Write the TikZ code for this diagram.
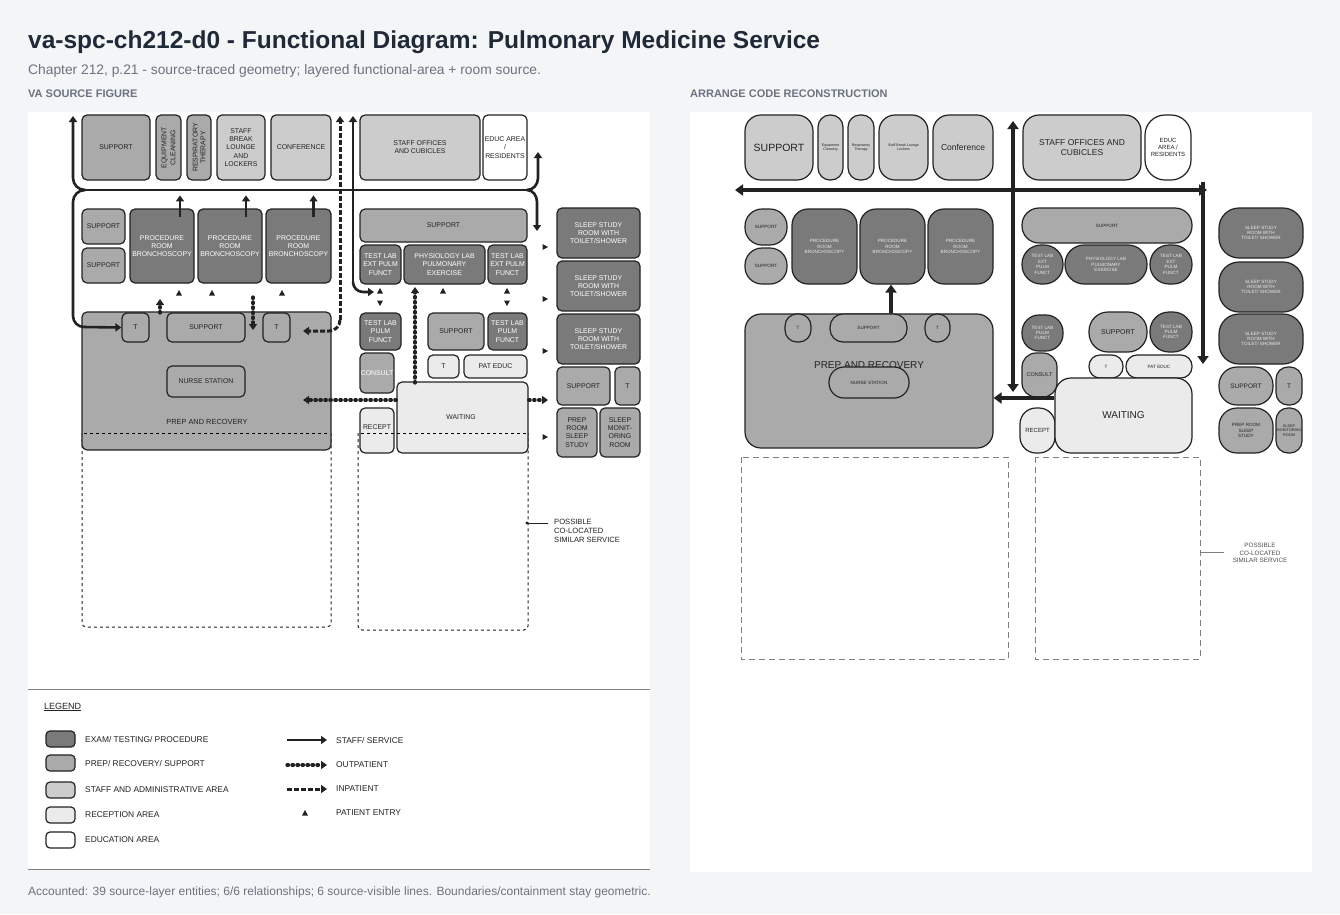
\documentclass[tikz,border=0pt]{standalone}
\usepackage{fontspec}
\setmainfont{Liberation Sans}
\usetikzlibrary{arrows.meta}
\definecolor{pagebg}{HTML}{F4F5F7}
\definecolor{ttl}{HTML}{1F2937}
\definecolor{sub}{HTML}{6B7280}
\definecolor{cexam}{HTML}{7A7A7A}
\definecolor{cprep}{HTML}{AAAAAA}
\definecolor{cstaff}{HTML}{CCCCCC}
\definecolor{crec}{HTML}{EBEBEB}
\definecolor{ink}{HTML}{222222}
\newcommand\Rm[7]{\node[box,#6,minimum width={(#4-#2)*1pt},minimum height={(#5-#3)*1pt}] (#1) at ({(#2+#4)/2},{(#3+#5)/2}) {#7};}
\tikzset{
 box/.style={draw=ink,line width=1.2pt,inner sep=0pt,align=center,font=\fontsize{6.9}{8.2}\selectfont,text=ink},
 ex/.style={fill=cexam,text=white,rounded corners=5pt},
 pr/.style={fill=cprep,rounded corners=5pt},
 st/.style={fill=cstaff,rounded corners=5pt},
 re/.style={fill=crec,rounded corners=5pt},
 ed/.style={fill=white,rounded corners=5pt},
 sm/.style={font=\fontsize{4.6}{5.4}\selectfont},
 staffL/.style={draw=ink,line width=2.6pt,-{Triangle[length=6pt,width=8pt]}},
 inpat/.style={draw=ink,line width=3pt,dash pattern=on 5pt off 2pt,-{Triangle[length=6pt,width=8pt]}},
 outpat/.style={draw=ink,line width=3.2pt,line cap=round,dash pattern=on 1.5pt off 3.5pt,-{Triangle[length=6pt,width=8pt]}},
 staffR/.style={draw=ink,line width=3.6pt,-{Triangle[length=8pt,width=11pt]}},
 fut/.style={draw=ink,dashed,line width=1pt,rounded corners=4pt},
 futR/.style={draw=gray,dash pattern=on 6pt off 4pt,line width=1pt},
 legt/.style={anchor=west,font=\fontsize{8.4}{10}\selectfont,text=ink},
}
\begin{document}
\begin{tikzpicture}[x=1pt,y=-1pt]
\fill[pagebg] (0,0) rectangle (1340,914);
\useasboundingbox (0,0) rectangle (1340,914);
\fill[white] (28,112) rectangle (650,870);
\fill[white] (690,112) rectangle (1312,872);
\node[anchor=west,font=\bfseries\fontsize{24.5}{27}\selectfont,text=ttl,inner sep=0pt] (title) at (28,42) {va-spc-ch212-d0 - Functional Diagram: Pulmonary Medicine Service};
\node[anchor=west,font=\fontsize{13.8}{16}\selectfont,text=sub,inner sep=0pt] (subt) at (28,71) {Chapter 212, p.21 - source-traced geometry; layered functional-area + room source.};
\node[anchor=west,font=\bfseries\fontsize{11}{13}\selectfont,text=sub,inner sep=0pt] (hl) at (28,94) {VA SOURCE FIGURE};
\node[anchor=west,font=\bfseries\fontsize{11}{13}\selectfont,text=sub,inner sep=0pt] (hr) at (690,94) {ARRANGE CODE RECONSTRUCTION};
\node[anchor=west,font=\fontsize{12}{14}\selectfont,text=sub,inner sep=0pt] (foot) at (28,892) {Accounted: 39 source-layer entities; 6/6 relationships; 6 source-visible lines. Boundaries/containment stay geometric.};

% ===== LEFT: source figure =====
\draw[fut] (82,433) -- (82,627) -- (331,627) -- (331,433);
\draw[fut] (358,433) -- (358,630) -- (528,630) -- (528,433);
\Rm{lsup}{82}{115}{150}{180}{pr}{SUPPORT}
\Rm{leq}{156}{115}{181}{180}{pr}{\rotatebox{90}{\shortstack{EQUIPMENT\\CLEANING}}}
\Rm{lrt}{187}{115}{211}{180}{pr}{\rotatebox{90}{\shortstack{RESPIRATORY\\THERAPY}}}
\Rm{lsb}{217}{115}{265}{180}{st}{STAFF\\BREAK\\LOUNGE\\AND\\LOCKERS}
\Rm{lconf}{271}{115}{331}{180}{st}{CONFERENCE}
\Rm{lso}{360}{115}{480}{180}{st}{STAFF OFFICES\\AND CUBICLES}
\Rm{led}{483}{115}{527}{180}{ed}{EDUC AREA\\/\\RESIDENTS}
\Rm{ls1}{82}{209}{125}{244}{pr}{SUPPORT}
\Rm{ls2}{82}{248}{125}{283}{pr}{SUPPORT}
\Rm{lp1}{130}{209}{194}{283}{ex}{PROCEDURE\\ROOM\\BRONCHOSCOPY}
\Rm{lp2}{198}{209}{262}{283}{ex}{PROCEDURE\\ROOM\\BRONCHOSCOPY}
\Rm{lp3}{266}{209}{331}{283}{ex}{PROCEDURE\\ROOM\\BRONCHOSCOPY}
\Rm{lprep}{82}{312}{331}{450}{pr}{}
\node[font=\fontsize{7.4}{8.6}\selectfont,text=ink] (lpreplab) at (207,422) {PREP AND RECOVERY};
\draw[dashed,line width=1pt] (84,433) -- (329,433);
\Rm{lt1}{122}{313}{149}{342}{pr}{T}
\Rm{lsup2}{167}{313}{245}{342}{pr}{SUPPORT}
\Rm{lt2}{263}{313}{290}{342}{pr}{T}
\Rm{lns}{167}{366}{245}{397}{pr}{NURSE STATION}
\Rm{lsupw}{360}{209}{527}{242}{pr}{SUPPORT}
\Rm{ltl1}{360}{245}{401}{284}{ex}{TEST LAB\\EXT PULM\\FUNCT}
\Rm{lphy}{404}{245}{485}{284}{ex}{PHYSIOLOGY LAB\\PULMONARY\\EXERCISE}
\Rm{ltl2}{488}{245}{527}{284}{ex}{TEST LAB\\EXT PULM\\FUNCT}
\Rm{ltl3}{360}{313}{401}{350}{ex}{TEST LAB\\PULM\\FUNCT}
\Rm{lsup3}{428}{313}{484}{350}{pr}{SUPPORT}
\Rm{ltl4}{488}{313}{527}{350}{ex}{TEST LAB\\PULM\\FUNCT}
\Rm{lt3}{428}{355}{459}{378}{re}{T}
\Rm{lpat}{464}{355}{527}{378}{re}{PAT EDUC}
\Rm{lcon}{360}{353}{394}{393}{pr,text=white}{CONSULT}
\Rm{lwait}{397}{382}{528}{453}{re}{}
\node[font=\fontsize{6.9}{8.2}\selectfont,text=ink] (lwaitlab) at (461,417) {WAITING};
\Rm{lrec}{360}{408}{394}{453}{re}{}
\node[font=\fontsize{6.9}{8.2}\selectfont,text=ink] (lreclab) at (377,427) {RECEPT};
\draw[dashed,line width=1pt] (361,433) -- (527,433);
\Rm{lss1}{557}{208}{640}{258}{ex}{SLEEP STUDY\\ROOM WITH\\TOILET/SHOWER}
\Rm{lss2}{557}{261}{640}{311}{ex}{SLEEP STUDY\\ROOM WITH\\TOILET/SHOWER}
\Rm{lss3}{557}{314}{640}{364}{ex}{SLEEP STUDY\\ROOM WITH\\TOILET/SHOWER}
\Rm{lsup4}{557}{367}{610}{405}{pr}{SUPPORT}
\Rm{lt4}{615}{367}{640}{405}{pr}{T}
\Rm{lprs}{557}{408}{597}{457}{pr}{PREP\\ROOM\\SLEEP\\STUDY}
\Rm{lsmr}{600}{408}{640}{457}{pr}{SLEEP\\MONIT-\\ORING\\ROOM}
% staff arrows left
\draw[staffL] (85,190) to[out=180,in=-90] (73,178) -- (73,116);
\draw[draw=ink,line width=2.6pt] (85,190) -- (527,190);
\draw[staffL] (527,190) to[out=0,in=-90] (538,178) -- (538,152);
\draw[staffL] (527,190) to[out=0,in=90] (537,202) -- (537,231);
\draw[staffL] (85,190) to[out=180,in=90] (73,202) -- (73,316) to[out=-90,in=180] (84,327) -- (lt1.west);
\draw[staffL] (lp1.north) ++(18,9) coordinate (a1) -- ++(0,-22);
\draw[staffL] (lp2.north) ++(16,9) coordinate (a2) -- ++(0,-22);
\draw[staffL] (lp3.north) ++(15,9) coordinate (a3) -- ++(0,-22);
\draw[staffL] (353,282) to[out=-90,in=180] (363,292) -- (374,292);
\draw[staffL] (353,282) -- (353,116);
\draw[inpat] (340,320) to[out=-90,in=0] (329,331) -- (303,331);
\draw[inpat] (340,320) -- (340,116);
\draw[outpat] (lwait.west |- 0,400) -- (303,400);
\draw[outpat] (415,383) -- (415,287);
\draw[outpat] (lwait.east |- 0,400) -- (548,400);
\draw[outpat] (160,313) -- (160,299);
\draw[outpat] (253,297) -- (253,330);
% entries
\foreach \p in {(179,293),(212,293),(282,293),(380,291),(443,291),(507,291)}
  \fill[ink] \p ++(0,-3) -- ++(3,5.5) -- ++(-6,0) -- cycle;
\foreach \p in {(380,303),(507,303)}
  \fill[ink] \p ++(0,3) -- ++(3,-5.5) -- ++(-6,0) -- cycle;
\foreach \y in {247,299,351,437}
  \fill[ink] (548,\y) -- ++(-5.5,-3) -- ++(0,6) -- cycle;
\fill[ink] (527,523) circle (1.6pt);
\draw[ink,line width=0.9pt] (527,523) -- (548,523);
\node[anchor=north west,align=left,font=\fontsize{7.6}{9.2}\selectfont,text=ink,inner sep=0pt] (lpos) at (554,519) {POSSIBLE\\CO-LOCATED\\SIMILAR SERVICE};

% legend
\draw[gray,line width=0.8pt] (28,689) -- (650,689);
\draw[gray,line width=0.8pt] (28,869) -- (650,869);
\node[anchor=west,font=\fontsize{9}{11}\selectfont,text=ink,inner sep=0pt] (leg) at (44,707) {\underline{LEGEND}};
\foreach \y/\c/\t in {739/cexam/{EXAM/ TESTING/ PROCEDURE},763/cprep/{PREP/ RECOVERY/ SUPPORT},790/cstaff/{STAFF AND ADMINISTRATIVE AREA},815/crec/{RECEPTION AREA},840/white/{EDUCATION AREA}}{
  \draw[ink,line width=1.2pt,fill=\c,rounded corners=4pt] (46,\y-8) rectangle (75,\y+8);
  \node[legt,inner sep=0pt] at (85,\y) {\t};}
\draw[staffL] (287,740) -- (327,740);
\node[legt,inner sep=0pt] at (336,740) {STAFF/ SERVICE};
\draw[outpat] (287,765) -- (327,765);
\node[legt,inner sep=0pt] at (336,765) {OUTPATIENT};
\draw[inpat] (287,789) -- (327,789);
\node[legt,inner sep=0pt] at (336,789) {INPATIENT};
\fill[ink] (305,810) -- ++(3,5.5) -- ++(-6,0) -- cycle;
\node[legt,inner sep=0pt] at (336,813) {PATIENT ENTRY};

% ===== RIGHT: reconstruction =====
\draw[futR] (741,457) rectangle (1008,659);
\draw[futR] (1035,457) rectangle (1200,659);
\draw[gray,line width=0.8pt] (1200,552) -- (1224,552);
\node[align=center,font=\fontsize{6.3}{7.4}\selectfont,text=ink!80] (rpos) at (1260,553) {POSSIBLE\\CO-LOCATED\\SIMILAR SERVICE};
\Rm{rsup}{745}{115}{813}{180}{st,rounded corners=16pt,font=\fontsize{10.5}{12}\selectfont}{SUPPORT}
\Rm{req}{818}{115}{843}{180}{st,rounded corners=12pt,font=\fontsize{3.6}{4.3}\selectfont}{Equipment\\Cleaning}
\Rm{rrt}{848}{115}{874}{180}{st,rounded corners=12pt,font=\fontsize{3.6}{4.3}\selectfont}{Respiratory\\Therapy}
\Rm{rsb}{879}{115}{928}{180}{st,rounded corners=16pt,font=\fontsize{3.6}{4.3}\selectfont}{Staff Break Lounge\\Lockers}
\Rm{rconf}{933}{115}{993}{180}{st,rounded corners=16pt,font=\fontsize{8.5}{10}\selectfont}{Conference}
\Rm{rso}{1023}{115}{1141}{180}{st,rounded corners=16pt,font=\fontsize{8.5}{10}\selectfont}{STAFF OFFICES AND\\CUBICLES}
\Rm{red}{1145}{115}{1191}{180}{ed,rounded corners=20pt,font=\fontsize{6}{7}\selectfont}{EDUC\\AREA /\\RESIDENTS}
\Rm{rs1}{745}{209}{787}{245}{pr,rounded corners=17pt,sm}{SUPPORT}
\Rm{rs2}{745}{248}{787}{284}{pr,rounded corners=17pt,sm}{SUPPORT}
\Rm{rp1}{792}{209}{857}{284}{ex,rounded corners=16pt,sm,text=crec}{PROCEDURE\\ROOM\\BRONCHOSCOPY}
\Rm{rp2}{860}{209}{925}{284}{ex,rounded corners=16pt,sm,text=crec}{PROCEDURE\\ROOM\\BRONCHOSCOPY}
\Rm{rp3}{928}{209}{993}{284}{ex,rounded corners=16pt,sm,text=crec}{PROCEDURE\\ROOM\\BRONCHOSCOPY}
\Rm{rprep}{745}{314}{993}{448}{pr,rounded corners=16pt}{}
\Rm{rt1}{785}{314}{811}{342}{pr,rounded corners=12pt,sm}{T}
\Rm{rsup2}{830}{314}{907}{342}{pr,rounded corners=13pt,sm}{SUPPORT}
\Rm{rt2}{925}{314}{950}{342}{pr,rounded corners=12pt,sm}{T}
\node[font=\fontsize{10}{12}\selectfont,text=ink] (rpreplab) at (869,365) {PREP AND RECOVERY};
\Rm{rns}{829}{367}{909}{398}{pr,rounded corners=15pt,sm}{NURSE STATION}
\Rm{rsupw}{1022}{208}{1192}{243}{pr,rounded corners=17pt,sm}{SUPPORT}
\Rm{rtl1}{1022}{245}{1063}{284}{ex,rounded corners=19pt,sm,text=crec}{TEST LAB\\EXT\\PULM\\FUNCT}
\Rm{rphy}{1065}{245}{1147}{284}{ex,rounded corners=19pt,sm,text=crec}{PHYSIOLOGY LAB\\PULMONARY\\EXERCISE}
\Rm{rtl2}{1150}{245}{1192}{284}{ex,rounded corners=19pt,sm,text=crec}{TEST LAB\\EXT\\PULM\\FUNCT}
\Rm{rtl3}{1022}{315}{1063}{351}{ex,rounded corners=17pt,sm,text=crec}{TEST LAB\\PULM\\FUNCT}
\Rm{rsup3}{1089}{312}{1147}{352}{pr,rounded corners=19pt,font=\fontsize{7}{8}\selectfont}{SUPPORT}
\Rm{rtl4}{1150}{312}{1192}{352}{ex,rounded corners=19pt,sm,text=crec}{TEST LAB\\PULM\\FUNCT}
\Rm{rt3}{1089}{355}{1123}{378}{re,rounded corners=11pt,sm}{T}
\Rm{rpat}{1126}{355}{1192}{378}{re,rounded corners=11pt,sm}{PAT EDUC}
\Rm{rcon}{1022}{353}{1057}{397}{pr,rounded corners=14pt,font=\fontsize{5.5}{6.5}\selectfont}{CONSULT}
\Rm{rrec}{1020}{408}{1055}{453}{re,rounded corners=16pt,font=\fontsize{6}{7}\selectfont}{RECEPT}
\Rm{rwait}{1055}{378}{1192}{453}{re,rounded corners=16pt,font=\fontsize{10}{12}\selectfont}{WAITING}
\Rm{rss1}{1219}{208}{1303}{258}{ex,rounded corners=20pt,sm,text=crec}{SLEEP STUDY\\ROOM WITH\\TOILET/ SHOWER}
\Rm{rss2}{1219}{262}{1303}{312}{ex,rounded corners=20pt,sm,text=crec}{SLEEP STUDY\\ROOM WITH\\TOILET/ SHOWER}
\Rm{rss3}{1219}{314}{1303}{364}{ex,rounded corners=20pt,sm,text=crec}{SLEEP STUDY\\ROOM WITH\\TOILET/ SHOWER}
\Rm{rsup4}{1219}{367}{1273}{405}{pr,rounded corners=18pt,font=\fontsize{6.5}{7.5}\selectfont}{SUPPORT}
\Rm{rt4}{1276}{367}{1302}{405}{pr,rounded corners=12pt,font=\fontsize{6.5}{7.5}\selectfont}{T}
\Rm{rprs}{1219}{408}{1273}{453}{pr,rounded corners=18pt,sm}{PREP ROOM\\SLEEP\\STUDY}
\Rm{rsmr}{1276}{408}{1302}{453}{pr,rounded corners=12pt,font=\fontsize{3.8}{4.5}\selectfont}{SLEEP\\MONITORING\\ROOM}
% right arrows
\coordinate (hc) at (1013,190);
\draw[staffR] (hc) -- (735,190);
\draw[staffR] (hc) -- (1207,190);
\draw[staffR] (1013,300) -- (1013,121);
\draw[staffR] (1013,300) -- (1013,392);
\draw[staffR] (1203,182) -- (1203,364);
\draw[staffR] (rsup2.north -| 891,0) -- (rp2.south -| 891,0);
\draw[staffR] (rwait.west |- 0,398) -- (rprep.east |- 0,398);
\end{tikzpicture}
\end{document}
